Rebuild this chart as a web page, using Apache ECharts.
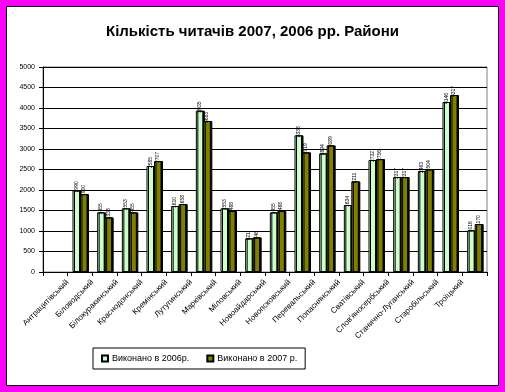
<!DOCTYPE html>
<html>
<head>
<meta charset="utf-8">
<script src="https://cdn.jsdelivr.net/npm/echarts@6/dist/echarts.min.js"></script>
<style>
html,body{margin:0;padding:0;background:#FF00FF;width:505px;height:392px;overflow:hidden;}
#frame{position:absolute;left:6px;top:6px;width:491px;height:378px;background:#fff;border:1px solid #000;}
#chart{position:absolute;left:0;top:0;width:505px;height:392px;}
</style>
</head>
<body>
<div id="frame"></div>
<div id="chart"></div>
<script>
// Category labels (label k sits at the right edge of category k, as in the reference)
var districts = ['Антрацитівський','Біловодський','Білокуракинський','Краснодонський','Кремінський','Лутугинський','Марківський','Міловський','Новоайдарський','Новопсковський','Перевальський','Попаснянський','Сватівський',"Слов'яносербський",'Станично-Луганський','Старобільський','Троїцький'];
var categorySlots = ['1','2','3','4','5','6','7','8','9','10','11','12','13','14','15','16','17','18'];
var values2006 = [null,1990,1455,1553,2585,1610,3935,1553,821,1455,3333,2894,1634,2732,2317,2463,4146,1016];
var values2007 = [null,1900,1333,1455,2707,1658,3683,1488,846,1488,2919,3089,2211,2756,2317,2504,4317,1170];
var seriesNames = ['Виконано в 2006р.','Виконано в 2007 р.'];
var yTicks = {min:0, max:5000, interval:500};

var chart = echarts.init(document.getElementById('chart'), null, {renderer:'canvas'});
var font = 'Liberation Sans, Arial, sans-serif';
var dataLabel = {
  show:true, position:'top', rotate:90, align:'left', verticalAlign:'middle',
  fontSize:5, color:'#000', fontFamily:font, offset:[-7,0],
  formatter:function(p){return p.value==null?'':String(p.value);}
};
chart.setOption({
  animation:false,
  title:{text:'Кількість читачів 2007, 2006 рр. Райони', left:'center', top:19,
    textStyle:{fontSize:15, fontWeight:'bold', color:'#000', fontFamily:font}},
  legend:{left:93, top:348, orient:'horizontal', borderColor:'#000', borderWidth:1,
    padding:[6,8,6,8], itemWidth:6, itemHeight:6, itemGap:17, icon:'rect',
    textStyle:{fontSize:9, color:'#000', fontFamily:font, padding:[0,0,0,-1]},
    data:seriesNames},
  grid:{left:43, right:18, top:67, bottom:120, show:true, borderColor:'#808080', borderWidth:1, backgroundColor:'transparent'},
  xAxis:[{
    type:'category', data:categorySlots, boundaryGap:true,
    axisLine:{lineStyle:{color:'#000', width:1}},
    axisTick:{show:true, length:4, lineStyle:{color:'#000'}},
    axisLabel:{show:false}
  },{
    type:'value', min:0, max:18, interval:1, position:'bottom',
    axisLine:{show:false}, axisTick:{show:false}, splitLine:{show:false},
    axisLabel:{rotate:45, fontSize:8, margin:9, color:'#000', fontFamily:font,
      formatter:function(v){var i=Math.round(v); return (i>=1 && i<=districts.length)?districts[i-1]:'';}}
  }],
  yAxis:{type:'value', min:yTicks.min, max:yTicks.max, interval:yTicks.interval,
    axisLine:{show:true, lineStyle:{color:'#000'}},
    axisTick:{show:true, length:4, lineStyle:{color:'#000'}},
    axisLabel:{fontSize:7, color:'#000', margin:8, fontFamily:font, formatter:function(v){return String(v);}},
    splitLine:{show:true, lineStyle:{color:'#000', width:1}}
  },
  series:[{
    name:seriesNames[0], type:'bar', xAxisIndex:0, data:values2006,
    barWidth:7.5, barGap:'0%',
    itemStyle:{color:'#CCFFCC', borderColor:'#000', borderWidth:1, shadowColor:'#000', shadowOffsetX:1.5, shadowBlur:0},
    label:dataLabel
  },{
    name:seriesNames[1], type:'bar', xAxisIndex:0, data:values2007,
    barWidth:7.5, barGap:'0%',
    itemStyle:{color:'#808000', borderColor:'#000', borderWidth:1, shadowColor:'#000', shadowOffsetX:1.5, shadowBlur:0},
    label:dataLabel
  }]
});
</script>
</body>
</html>
